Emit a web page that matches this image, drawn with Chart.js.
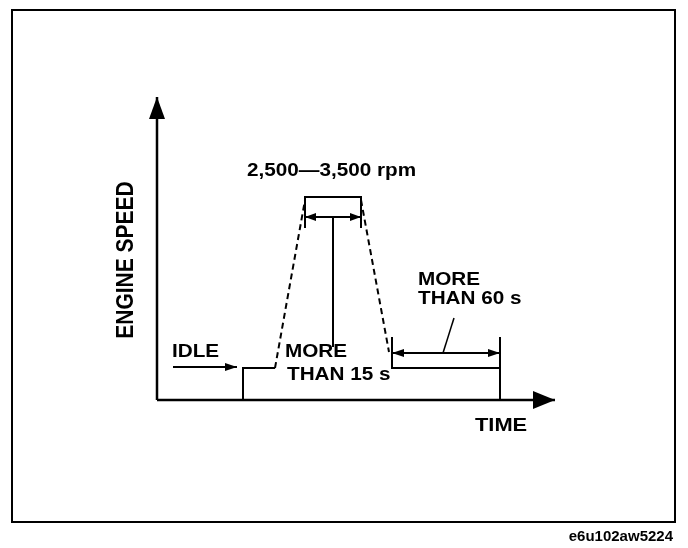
<!DOCTYPE html>
<html>
<head>
<meta charset="utf-8">
<title>Engine speed check</title>
<script src="https://cdn.jsdelivr.net/npm/chart.js@4/dist/chart.umd.min.js"></script>
<style>
  html, body { margin: 0; padding: 0; background: #fff; }
  #wrap { width: 688px; height: 548px; }
</style>
</head>
<body>
<div id="wrap"><canvas id="speedChart" width="688" height="548"></canvas></div>
<script>
// Schematic units: time 0..398, engine speed 0..303 (no real scale on the drawing)
const timeRange = [0, 398];
const speedRange = [0, 303];

// Axes
const yAxisT = [0, 0];
const yAxisS = [0, 303];
const xAxisT = [0, 398];
const xAxisS = [0, 0];

// Engine speed profile
const idleT = [86, 86, 118];
const idleS = [0, 32, 32];
const rampUpT = [118, 148];
const rampUpS = [32, 200];
const bandT = [148, 148, 204, 204];
const bandS = [172, 203, 203, 172];
const rampDownT = [204, 232];
const rampDownS = [200, 48];
const holdT = [235, 235, 343, 343];
const holdS = [63, 32, 32, 0];
const holdEndT = [343, 343];
const holdEndS = [32, 63];

// Dimension marks
const bandSpanT = [148, 204];
const bandSpanS = [183, 183];
const bandLeaderT = [176, 176];
const bandLeaderS = [183, 53];
const holdSpanT = [235, 343];
const holdSpanS = [47, 47];
const holdLeaderT = [286, 297];
const holdLeaderS = [47, 82];
const idleArrowT = [16, 80];
const idleArrowS = [33, 33];

// Labels
const yTitle = 'ENGINE SPEED';
const xTitle = 'TIME';
const bandLabel = '2,500\u20143,500 rpm';
const idleLabel = 'IDLE';
const minLabel1 = ['MORE', 'THAN 15 s'];
const minLabel2 = ['MORE', 'THAN 60 s'];
const figCode = 'e6u102aw5224';

function pts(ts, ss) {
  return ts.map((t, i) => ({ x: t, y: ss[i] }));
}

function line(ts, ss, extra) {
  return Object.assign({
    data: pts(ts, ss),
    showLine: true,
    borderColor: '#000',
    borderWidth: 2,
    pointRadius: 0,
    borderJoinStyle: 'miter',
    clip: false,
    tension: 0
  }, extra || {});
}

// Filled arrowheads at the ends of flagged datasets
const arrowHeads = {
  id: 'arrowHeads',
  afterDatasetsDraw(chart) {
    const ctx = chart.ctx;
    const xs = chart.scales.x, ys = chart.scales.y;
    chart.data.datasets.forEach(ds => {
      if (!ds.arrow) return;
      const p = ds.data.map(d => [xs.getPixelForValue(d.x), ys.getPixelForValue(d.y)]);
      const ends = [];
      if (ds.arrow === 'end' || ds.arrow === 'both') ends.push([p[p.length - 1], p[p.length - 2]]);
      if (ds.arrow === 'start' || ds.arrow === 'both') ends.push([p[0], p[1]]);
      ends.forEach(([tip, from]) => {
        const a = Math.atan2(tip[1] - from[1], tip[0] - from[0]);
        const len = ds.headLen, w = ds.headW;
        ctx.save();
        ctx.translate(tip[0], tip[1]);
        ctx.rotate(a);
        ctx.beginPath();
        ctx.moveTo(0, 0);
        ctx.lineTo(-len, -w);
        ctx.lineTo(-len, w);
        ctx.closePath();
        ctx.fillStyle = '#000';
        ctx.fill();
        ctx.restore();
      });
    });
  }
};

// the scanned lettering is a bit wider than tall, so stretch it sideways
const FONT = 'bold 18px "Liberation Sans", Arial, sans-serif';
function wideText(ctx, txt, x, y, font) {
  ctx.save();
  ctx.font = font || FONT;
  ctx.translate(x, y);
  ctx.scale(1.15, 1);
  ctx.fillText(txt, 0, 0);
  ctx.restore();
}

// Frame and text
const sheet = {
  id: 'sheet',
  beforeDraw(chart) {
    const ctx = chart.ctx;
    ctx.save();
    ctx.fillStyle = '#fff';
    ctx.fillRect(0, 0, chart.width, chart.height);
    ctx.restore();
  },
  afterDraw(chart) {
    const ctx = chart.ctx;
    ctx.save();
    ctx.strokeStyle = '#000';
    ctx.lineWidth = 2;
    ctx.strokeRect(12, 10, 663, 512);

    ctx.fillStyle = '#000';
    ctx.textBaseline = 'alphabetic';
    ctx.textAlign = 'left';
    wideText(ctx, bandLabel, 247, 176);
    wideText(ctx, idleLabel, 172, 357);
    wideText(ctx, minLabel1[0], 285, 357);
    wideText(ctx, minLabel1[1], 287, 380);
    wideText(ctx, minLabel2[0], 418, 285);
    wideText(ctx, minLabel2[1], 418, 304);
    wideText(ctx, xTitle, 475, 431, 'bold 19px "Liberation Sans", Arial, sans-serif');

    ctx.save();
    ctx.translate(133, 260);
    ctx.rotate(-Math.PI / 2);
    ctx.scale(1, 1.15);
    ctx.textAlign = 'center';
    ctx.font = 'bold 21px "Liberation Sans", Arial, sans-serif';
    ctx.fillText(yTitle, 0, 0);
    ctx.restore();

    ctx.font = 'bold 15px "Liberation Sans", Arial, sans-serif';
    ctx.textAlign = 'right';
    ctx.fillText(figCode, 673, 541);
    ctx.restore();
  }
};

new Chart(document.getElementById('speedChart').getContext('2d'), {
  type: 'scatter',
  data: {
    datasets: [
      line(yAxisT, yAxisS, { borderWidth: 2.5, arrow: 'end', headLen: 22, headW: 8 }),
      line(xAxisT, xAxisS, { borderWidth: 2.5, arrow: 'end', headLen: 22, headW: 9 }),
      line(idleT, idleS),
      line(rampUpT, rampUpS, { borderDash: [6, 4] }),
      line(bandT, bandS),
      line(rampDownT, rampDownS, { borderDash: [6, 4] }),
      line(holdT, holdS),
      line(holdEndT, holdEndS),
      line(bandSpanT, bandSpanS, { arrow: 'both', headLen: 11, headW: 4 }),
      line(bandLeaderT, bandLeaderS),
      line(holdSpanT, holdSpanS, { arrow: 'both', headLen: 12, headW: 4 }),
      line(holdLeaderT, holdLeaderS, { borderWidth: 1.5 }),
      line(idleArrowT, idleArrowS, { arrow: 'end', headLen: 12, headW: 4 })
    ]
  },
  options: {
    responsive: false,
    devicePixelRatio: 1,
    animation: false,
    layout: { padding: { left: 157, right: 133, top: 97, bottom: 148 } },
    plugins: { legend: { display: false }, tooltip: { enabled: false } },
    scales: {
      x: { type: 'linear', min: timeRange[0], max: timeRange[1], display: false },
      y: { type: 'linear', min: speedRange[0], max: speedRange[1], display: false }
    }
  },
  plugins: [sheet, arrowHeads]
});
</script>
</body>
</html>
